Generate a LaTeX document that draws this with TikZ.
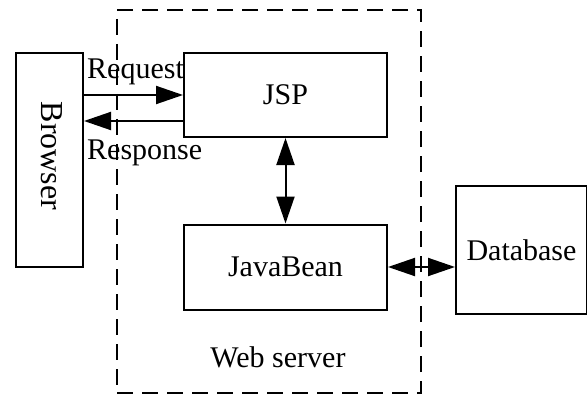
\documentclass[tikz,border=0pt]{standalone}
\usepackage{fontspec}
\setmainfont{Liberation Serif}
\usetikzlibrary{arrows.meta}
\begin{document}
\begin{tikzpicture}[x=1pt,y=-1pt,
  box/.style={draw,line width=2pt,inner sep=0pt,font=\fontsize{30}{34}\selectfont},
  lbl/.style={inner sep=0pt,font=\fontsize{30}{34}\selectfont},
  arr/.style={line width=2pt,-{Triangle[length=27pt,width=18pt]}},
  darr/.style={line width=2pt,{Triangle[length=27pt,width=18pt]}-{Triangle[length=27pt,width=18pt]}},
  frame/.style={draw,line width=2pt,dash pattern=on 16pt off 9pt}]
\useasboundingbox (0,0) rectangle (587,396);
% web server boundary
\node[frame,minimum width=304pt,minimum height=383pt,inner sep=0pt] (server) at (269,201.5) {};
\node[lbl,anchor=base] (wslabel) at (278,367) {Web server};
% components
\node[box,minimum width=67pt,minimum height=214pt] (browser) at (49.5,160) {};
\node[lbl,rotate=-90,font=\fontsize{32}{36}\selectfont] (browsertext) at (52,156) {Browser};
\node[box,minimum width=203pt,minimum height=84pt] (jsp) at (285.5,95) {JSP};
\node[box,minimum width=203pt,minimum height=85pt] (bean) at (285.5,267) {JavaBean};
\node[box,minimum width=131pt,minimum height=128pt,anchor=west] (db) at (455,250) {Database};
% labels on the request/response pair
\node[lbl,anchor=base west] (reqlabel) at (87,79) {Request};
\node[lbl,anchor=base west] (reslabel) at (87,159) {Response};
% connectors
\draw[arr] (browser.east |- 0,95) -- (jsp.west |- 0,95);
\draw[arr] (jsp.west |- 0,121) -- (browser.east |- 0,121);
\draw[darr] (jsp.south) -- (bean.north);
\draw[darr] (bean.east) -- (db.west |- bean.east);
\end{tikzpicture}
\end{document}
